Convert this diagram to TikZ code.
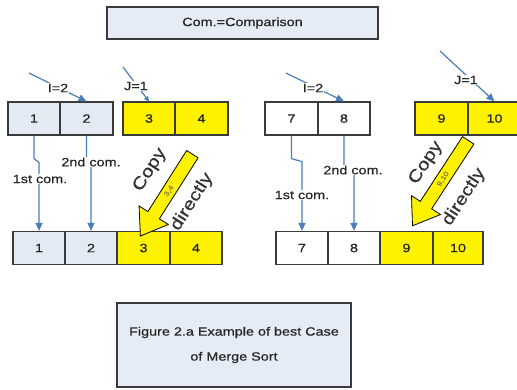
\documentclass[tikz,border=0pt]{standalone}
\usepackage{fontspec}
\setmainfont{Liberation Sans}[FakeStretch=1.2,FakeBold=0.6]
\usetikzlibrary{shapes.arrows,arrows.meta}
\definecolor{cellbg}{HTML}{E4EAF4}
\definecolor{boxbg}{HTML}{E6ECF6}
\definecolor{blu}{HTML}{4A7EBB}
\definecolor{edge}{HTML}{3A3A3A}
\begin{document}
\begin{tikzpicture}[x=1pt,y=-1pt,
  txt/.style={font=\fontsize{12}{14}\selectfont, text=black!85},
  cell/.style={txt, draw=edge, line width=1.2pt, minimum height=33pt, inner sep=0pt},
  gcell/.style={cell, fill=cellbg},
  ycell/.style={cell, fill=yellow},
  wcell/.style={cell, fill=white},
  infobox/.style={txt, draw=edge, line width=1.2pt, fill=boxbg, inner sep=0pt},
  bluarrow/.style={draw=blu, line width=1.2pt, -{Triangle[width=7pt,length=8pt]}},
  lab/.style={txt, fill=white, inner sep=1pt},
  cpy/.style={single arrow, draw=black, line width=0.8pt, fill=yellow,
    shape border rotate=180, single arrow head extend=10.5pt,
    single arrow tip angle=70, inner ysep=3.5pt, inner xsep=2pt,
    font=\fontsize{7}{8}\selectfont, text=yellow!45!black},
  cpytxt/.style={font=\fontsize{17}{20}\selectfont, text=black!80, inner sep=0pt}
]
\useasboundingbox (0,0) rectangle (517,389);

% title box
\node[infobox, minimum width=271pt, minimum height=32pt] (title) at (242.5,23) {Com.=Comparison};

% top arrays
\node[gcell, minimum width=52pt] (t1) at (34,118.5) {1};
\node[gcell, minimum width=53pt] (t2) at (86.5,118.5) {2};
\node[ycell, minimum width=52pt] (t3) at (149,118.5) {3};
\node[ycell, minimum width=53pt] (t4) at (201.5,118.5) {4};
\node[wcell, minimum width=53pt] (t5) at (291.5,118.5) {7};
\node[wcell, minimum width=52pt] (t6) at (344,118.5) {8};
\node[ycell, minimum width=53pt] (t7) at (441.5,118.5) {9};
\node[ycell, minimum width=53pt] (t8) at (494.5,118.5) {10};

% bottom arrays
\node[gcell, minimum width=52pt] (b1) at (39,248) {1};
\node[gcell, minimum width=52pt] (b2) at (91,248) {2};
\node[ycell, minimum width=53pt] (b3) at (143.5,248) {3};
\node[ycell, minimum width=52pt] (b4) at (196,248) {4};
\node[wcell, minimum width=52pt] (b5) at (302,248) {7};
\node[wcell, minimum width=52pt] (b6) at (354,248) {8};
\node[ycell, minimum width=53pt] (b7) at (406.5,248) {9};
\node[ycell, minimum width=50pt] (b8) at (458,248) {10};

% pointer arrows
\coordinate (i1) at (29,73);
\coordinate (j1) at (123,67);
\coordinate (i2) at (286,73);
\coordinate (j2) at (440,51);
\draw[bluarrow] (i1) -- (t2.north);
\draw[bluarrow, -{Triangle[width=5pt,length=5pt]}] (j1) -- (t3.north);
\draw[bluarrow] (i2) -- (t6.north);
\draw[bluarrow] (j2) -- (t8.north);
\node[lab] (li1) at (58,88) {I=2};
\node[lab] (lj1) at (136,86) {J=1};
\node[lab] (li2) at (313,88) {I=2};
\node[lab] (lj2) at (466,80) {J=1};

% comparison arrows
\draw[bluarrow] (t1.south) -- ++(0,23) -- ++(5,4) -- (b1.north);
\draw[bluarrow] (t2.south) -- ++(0,27) -- ++(4.5,3) -- (b2.north);
\draw[bluarrow] (t5.south) -- ++(0,23) -- ++(10.5,3) -- (b5.north);
\draw[bluarrow] (t6.south) -- ++(0,32) -- ++(10,3) -- (b6.north);
\node[lab] (c1) at (40,179) {1st com.};
\node[lab] (c2) at (91,162) {2nd com.};
\node[lab] (c3) at (302,195) {1st com.};
\node[lab] (c4) at (353,170) {2nd com.};

% copy arrows
\node[cpy, minimum height=97pt, rotate=57.6] (ar1) at (169,191) {3,4};
\node[cpy, minimum height=102pt, rotate=56.9] (ar2) at (443,179) {9,10};
\node[cpytxt, rotate=57.6] (cp1) at (150,170) {Copy};
\node[cpytxt, rotate=57.6] (dr1) at (192,202) {directly};
\node[cpytxt, rotate=56.9] (cp2) at (426,163) {Copy};
\node[cpytxt, rotate=56.9] (dr2) at (464,197) {directly};

% caption
\node[infobox, minimum width=234pt, minimum height=84pt, align=center,
  font=\fontsize{12}{25}\selectfont] (cap) at (234,345)
  {Figure 2.a Example of best Case\\of Merge Sort};
\end{tikzpicture}
\end{document}
